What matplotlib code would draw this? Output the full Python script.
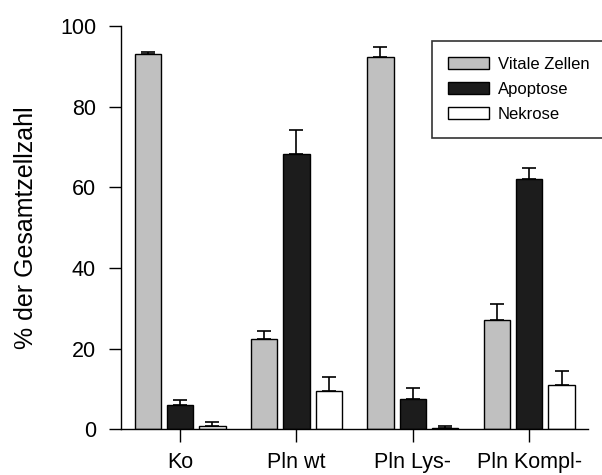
# Anteil vitaler, apoptotischer und nekrotischer Zellen
import numpy as np
import matplotlib.pyplot as plt

plt.rcParams['font.family'] = ['Liberation Sans', 'DejaVu Sans']

groups = ["Ko", "Pln wt", "Pln Lys-", "Pln Kompl-"]
series = ["Vitale Zellen", "Apoptose", "Nekrose"]

vitale = [93.2, 22.5, 92.4, 27.1]
vitale_err = [0.3, 2.0, 2.5, 4.1]
apoptose = [6.1, 68.4, 7.6, 62.2]
apoptose_err = [1.1, 5.8, 2.7, 2.7]
nekrose = [0.95, 9.4, 0.45, 10.9]
nekrose_err = [1.0, 3.6, 0.4, 3.7]

colors = ["#c0c0c0", "#1c1c1c", "#ffffff"]

fig = plt.figure(figsize=(6.02, 4.75), dpi=100)
ax = fig.add_axes([0.201, 0.096, 0.776, 0.849])

x = np.arange(len(groups))
w = 0.226
step = 0.278
handles = []
for k, (vals, errs) in enumerate([(vitale, vitale_err),
                                  (apoptose, apoptose_err),
                                  (nekrose, nekrose_err)]):
    pos = x + (k - 1) * step
    ax.errorbar(pos, vals, yerr=[np.zeros(len(vals)), errs], fmt="none",
                ecolor="black", elinewidth=1.2, capsize=4.8, capthick=1.2,
                zorder=1)
    b = ax.bar(pos, vals, width=w, color=colors[k], edgecolor="black",
               linewidth=1.0, label=series[k], zorder=2)
    handles.append(b)

ax.set_xlim(-0.507, 3.507)
ax.set_ylim(0, 100)
ax.set_yticks([0, 20, 40, 60, 80, 100])
ax.set_xticks(x)
ax.set_xticklabels(groups)
ax.set_ylabel("% der Gesamtzellzahl", fontsize=18, labelpad=16)

for s in ["top", "right"]:
    ax.spines[s].set_visible(False)
ax.spines["left"].set_linewidth(1.0)
ax.spines["bottom"].set_linewidth(1.0)
ax.tick_params(axis="y", direction="out", length=9, width=1.0, pad=9,
               labelsize=15.5)
ax.tick_params(axis="x", direction="out", length=9, width=1.0, pad=7,
               labelsize=15.5)

leg = fig.legend(handles=handles, loc="upper left",
                 bbox_to_anchor=(432 / 602, 1 - 41 / 475),
                 fontsize=12, frameon=True, fancybox=False,
                 edgecolor="black", handlelength=2.45, handleheight=0.76,
                 handletextpad=0.55, labelspacing=0.6, borderpad=0.95,
                 borderaxespad=0)
leg.get_frame().set_linewidth(1.2)

fig.savefig("out.png", dpi=100)
